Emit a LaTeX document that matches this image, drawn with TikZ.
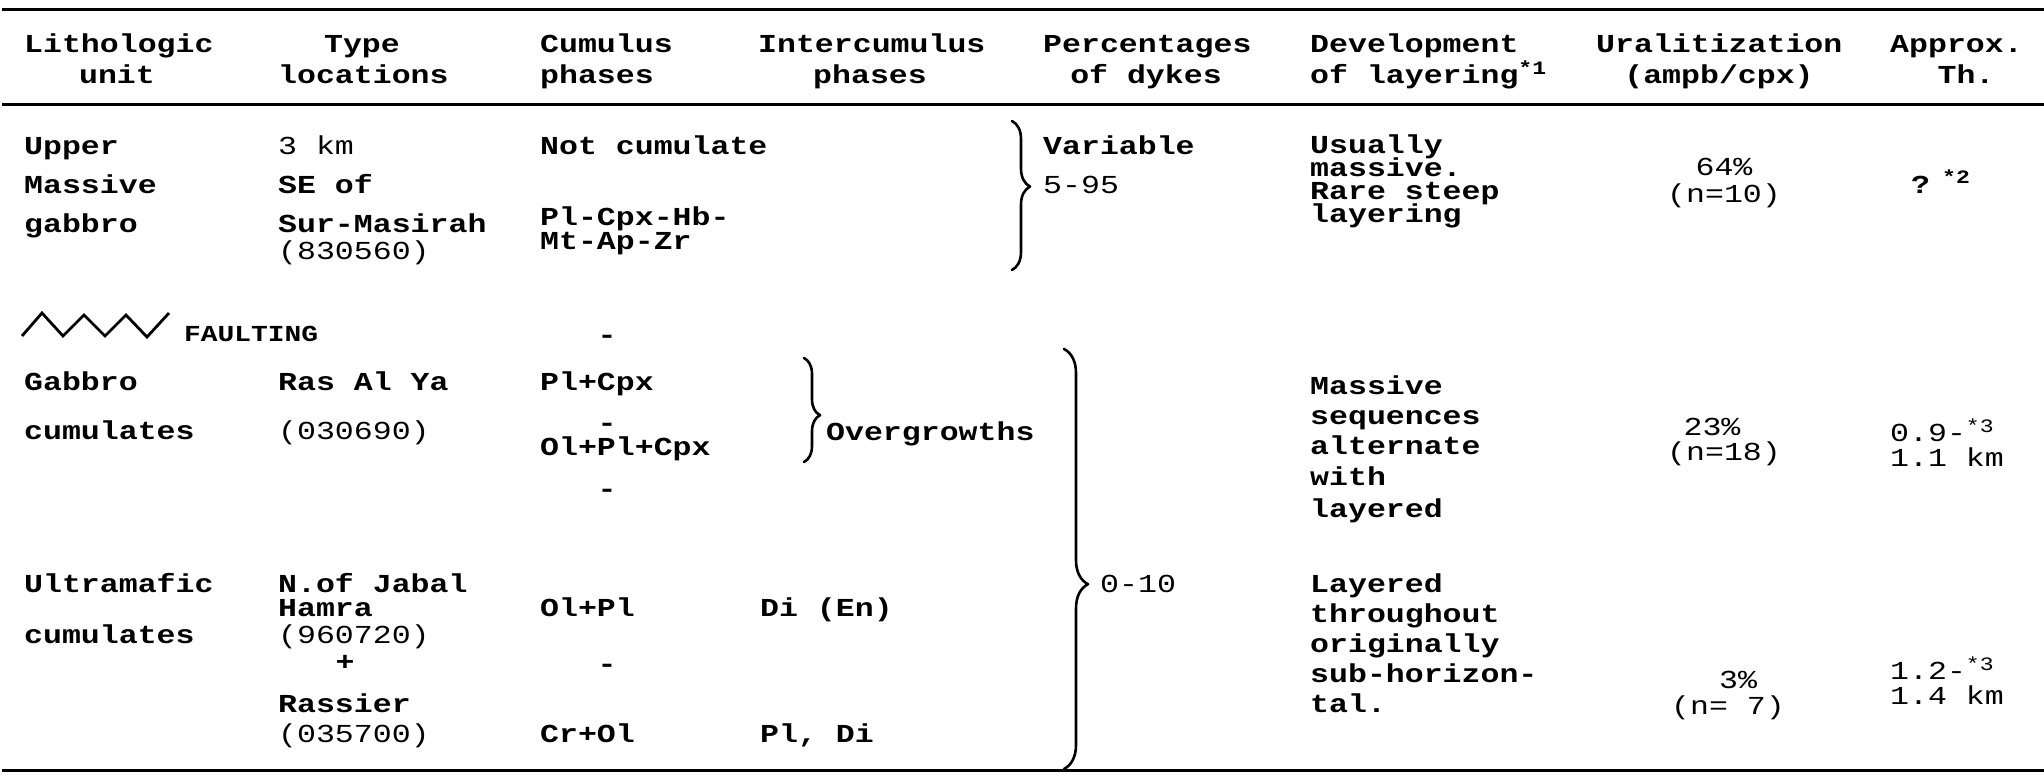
\documentclass[tikz,border=0pt]{standalone}
\usepackage{fontspec}
\newfontfamily\tw[FakeStretch=1.218]{Liberation Mono Bold}
\newfontfamily\twn[FakeStretch=1.218]{Liberation Mono}
\usetikzlibrary{decorations.pathreplacing}
\newcommand{\upst}[1]{\raisebox{9bp}{\fontsize{19}{19}\selectfont #1}}
\begin{document}
\begin{tikzpicture}[x=1bp,y=-1bp,
  t/.style={anchor=west, inner sep=0pt, font=\tw\fontsize{26}{22}\selectfont, text height=15bp, text depth=0bp},
  tc/.style={t, anchor=center},
  n/.style={t, font=\twn\fontsize{26}{22}\selectfont},
  nc/.style={n, anchor=center},
  rule/.style={line width=3bp},
  brc/.style={decorate, line width=2.6bp, line cap=round, line join=round}]
\fill[white] (0,0) rectangle (2044,782);
\useasboundingbox (0,0) rectangle (2044,782);
% rules
\draw[rule] (2,10) -- (2044,10);
\draw[rule] (2,104) -- (2044,104);
\draw[rule] (2,770) -- (2044,770);
% header
\node[t]  (hA1) at (24,45) {Lithologic};
\node[tc] (hA2) at (117,76) {unit};
\node[tc] (hB1) at (362,45) {Type};
\node[t]  (hB2) at (278,76) {locations};
\node[t]  (hC1) at (540,45) {Cumulus};
\node[t]  (hC2) at (540,76) {phases};
\node[t]  (hD1) at (758,45) {Intercumulus};
\node[tc] (hD2) at (870,76) {phases};
\node[t]  (hE1) at (1043,45) {Percentages};
\node[tc] (hE2) at (1146,76) {of dykes};
\node[t]  (hF1) at (1310,45) {Development};
\node[t]  (hF2) at (1310,76) {of layering\upst{*1}};
\node[t]  (hG1) at (1596,45) {Uralitization};
\node[tc] (hG2) at (1719,76) {(ampb/cpx)};
\node[t]  (hH1) at (1890,45) {Approx.};
\node[tc] (hH2) at (1966,76) {Th.};
% column 1
\node[t] (a1) at (24,147) {Upper};
\node[t] (a2) at (24,186) {Massive};
\node[t] (a3) at (24,225) {gabbro};
\node[t, font=\tw\fontsize{23}{22}\selectfont] (a4) at (184,334) {FAULTING};
\node[t] (a5) at (24,383) {Gabbro};
\node[t] (a6) at (24,432) {cumulates};
\node[t] (a7) at (24,585) {Ultramafic};
\node[t] (a8) at (24,636) {cumulates};
\draw[line width=2.8bp, line join=miter] (22,336) -- (42,313) -- (63,336) -- (84,315) -- (105,336) -- (126,315) -- (147,337) -- (169,313);
% column 2
\node[n] (b1) at (278,147) {3 km};
\node[t] (b2) at (278,186) {SE of};
\node[t] (b3) at (278,225) {Sur-Masirah};
\node[n] (b4) at (278,252) {(830560)};
\node[t] (b5) at (278,383) {Ras Al Ya};
\node[n] (b6) at (278,432) {(030690)};
\node[t] (b7) at (278,585) {N.of Jabal};
\node[t] (b8) at (278,609) {Hamra};
\node[n] (b9) at (278,636) {(960720)};
\node[tc] (b10) at (345,663) {+};
\node[t] (b11) at (278,705) {Rassier};
\node[n] (b12) at (278,735) {(035700)};
% column 3
\node[t] (c1) at (540,147) {Not cumulate};
\node[t] (c2) at (540,218) {Pl-Cpx-Hb-};
\node[t] (c3) at (540,242) {Mt-Ap-Zr};
\node[tc] (c4) at (607,336) {-};
\node[t] (c5) at (540,383) {Pl+Cpx};
\node[tc] (c6) at (607,424) {-};
\node[t] (c7) at (540,448) {Ol+Pl+Cpx};
\node[tc] (c8) at (607,490) {-};
\node[t] (c9) at (540,609) {Ol+Pl};
\node[tc] (c10) at (607,665) {-};
\node[t] (c11) at (540,735) {Cr+Ol};
% column 4
\node[t] (d1) at (826,433) {Overgrowths};
\node[t] (d2) at (760,609) {Di (En)};
\node[t] (d3) at (760,735) {Pl, Di};
% column 5
\node[t] (e1) at (1043,147) {Variable};
\node[n] (e2) at (1043,186) {5-95};
\node[n] (e3) at (1100,585) {0-10};
% column 6
\node[t] (f1) at (1310,146) {Usually};
\node[t] (f2) at (1310,169) {massive.};
\node[t] (f3) at (1310,192) {Rare steep};
\node[t] (f4) at (1310,215) {layering};
\node[t] (f5) at (1310,387) {Massive};
\node[t] (f6) at (1310,417) {sequences};
\node[t] (f7) at (1310,447) {alternate};
\node[t] (f8) at (1310,478) {with};
\node[t] (f9) at (1310,510) {layered};
\node[t] (f10) at (1310,585) {Layered};
\node[t] (f11) at (1310,615) {throughout};
\node[t] (f12) at (1310,645) {originally};
\node[t] (f13) at (1310,675) {sub-horizon-};
\node[t] (f14) at (1310,705) {tal.};
% column 7
\node[nc] (g1) at (1724,168) {64\%};
\node[nc] (g2) at (1724,195) {(n=10)};
\node[nc] (g3) at (1712,428) {23\%};
\node[nc] (g4) at (1724,453) {(n=18)};
\node[nc] (g5) at (1738,681) {3\%};
\node[nc] (g6) at (1728,707) {(n= 7)};
% column 8
\node[t] (h1) at (1911,186) {?};
\node[t, font=\tw\fontsize{19}{19}\selectfont] (h1s) at (1942,176) {*2};
\node[n] (h2) at (1890,434) {0.9-\upst{*3}};
\node[n] (h3) at (1890,459) {1.1 km};
\node[n] (h4) at (1890,672) {1.2-\upst{*3}};
\node[n] (h5) at (1890,697) {1.4 km};
% braces
\draw[brc, decoration={brace, amplitude=18bp, aspect=0.44}] (1012,121) -- (1012,270);
\draw[brc, decoration={brace, amplitude=16bp, aspect=0.55}] (804,358) -- (804,462);
\draw[brc, decoration={brace, amplitude=24bp, aspect=0.56}] (1064,349) -- (1064,769);
\end{tikzpicture}
\end{document}
